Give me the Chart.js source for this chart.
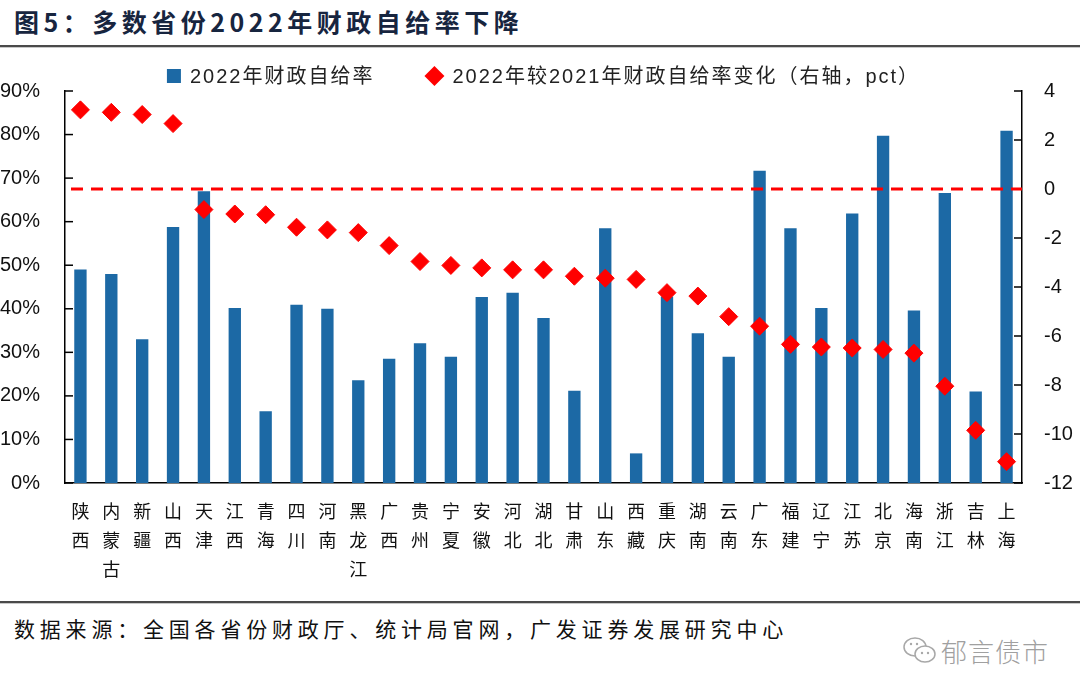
<!DOCTYPE html>
<html>
<head>
<meta charset="utf-8">
<script src="https://cdn.jsdelivr.net/npm/chart.js@4/dist/chart.umd.min.js"></script>
<style>
body { margin: 0; background: #fff; width: 1080px; height: 698px; position: relative; overflow: hidden; font-family: "Noto Sans CJK SC", sans-serif; }
.title { position: absolute; left: 14px; top: 3px; font-size: 25px; font-weight: bold; color: #17253f; letter-spacing: 4.5px; white-space: nowrap; }
.rule { position: absolute; left: 0; width: 1080px; height: 2px; background: #4a4a4a; border-bottom: 1px solid #c8c8c8; }
.chart { position: absolute; left: 0; top: 52px; width: 1080px; height: 548px; }
.source { position: absolute; left: 14px; top: 613px; font-size: 21px; color: #111; letter-spacing: 4.8px; white-space: nowrap; }
.mark { position: absolute; left: 902px; top: 632px; font-size: 26px; font-weight: 300; color: #a0a0a0; display: flex; align-items: center; gap: 3px; letter-spacing: 1px; }
</style>
</head>
<body>
<div class="title">图5：多数省份2022年财政自给率下降</div>
<div class="rule" style="top:45px"></div>
<div class="chart"><canvas id="Chart1"></canvas></div>
<div class="rule" style="top:601px"></div>
<div class="source">数据来源：全国各省份财政厅、统计局官网，广发证券发展研究中心</div>
<div class="mark">
  <svg width="36" height="32" viewBox="0 0 36 32"><ellipse cx="13" cy="12" rx="11" ry="9" fill="none" stroke="#a8a8a8" stroke-width="1.5"/><circle cx="9" cy="9" r="1.2" fill="#a8a8a8"/><circle cx="15" cy="9" r="1.2" fill="#a8a8a8"/><ellipse cx="23" cy="19" rx="10" ry="8" fill="#fff" stroke="#a8a8a8" stroke-width="1.5"/><circle cx="20" cy="18" r="1.2" fill="#a8a8a8"/><circle cx="26" cy="18" r="1.2" fill="#a8a8a8"/></svg>
  <span>郁言债市</span>
</div>
<script>
const provinces = ['陕西', '内蒙古', '新疆', '山西', '天津', '江西', '青海', '四川', '河南', '黑龙江',
    '广西', '贵州', '宁夏', '安徽', '河北', '湖北', '甘肃', '山东', '西藏', '重庆',
    '湖南', '云南', '广东', '福建', '辽宁', '江苏', '北京', '海南', '浙江', '吉林', '上海'];
const ratio2022 = [49.0, 48.0, 33.0, 58.8, 67.0, 40.2, 16.5, 40.9, 40.0, 23.6,
    28.5, 32.1, 29.0, 42.7, 43.7, 37.9, 21.2, 58.5, 6.8, 42.8,
    34.4, 29.0, 71.7, 58.5, 40.2, 61.9, 79.7, 39.6, 66.6, 21.0, 80.9];
const changeVs2021 = [3.23, 3.13, 3.04, 2.67, -0.84, -1.02, -1.05, -1.56, -1.67, -1.78,
    -2.31, -2.96, -3.12, -3.22, -3.30, -3.30, -3.56, -3.64, -3.69, -4.23,
    -4.37, -5.21, -5.60, -6.34, -6.45, -6.49, -6.55, -6.70, -8.05, -9.85, -11.13];
const leftTicks = [0, 90, 10];   // min, max, step (%)
const rightTicks = [-12, 4, 2];  // min, max, step (pct)
const zeroLine = 0;

const labels = provinces.map(p => p.split(''));

// legend drawn by hand: the original has a wide gap between the two items
const topLegend = {
    id: 'topLegend',
    afterDraw(chart) {
        const { ctx, chartArea } = chart;
        const ds = chart.data.datasets;
        ctx.save();
        ctx.font = '20px "Liberation Sans", "Noto Sans CJK SC", sans-serif';
        ctx.letterSpacing = '2px';
        ctx.textBaseline = 'middle';
        const w1 = ctx.measureText(ds[0].label).width;
        const w2 = ctx.measureText(ds[1].label).width;
        const total = 14 + 9 + w1 + 50 + 20 + 8 + w2;
        let x = (chartArea.left + chartArea.right) / 2 - total / 2;
        const y = 24;
        ctx.fillStyle = ds[0].backgroundColor;
        ctx.fillRect(x, y - 7, 14, 14);
        x += 14 + 9;
        ctx.fillStyle = '#222';
        ctx.fillText(ds[0].label, x, y + 1);
        x += w1 + 50;
        ctx.fillStyle = ds[1].backgroundColor;
        ctx.beginPath();
        ctx.moveTo(x + 10, y - 10);
        ctx.lineTo(x + 20, y);
        ctx.lineTo(x + 10, y + 10);
        ctx.lineTo(x, y);
        ctx.closePath();
        ctx.fill();
        x += 20 + 8;
        ctx.fillStyle = '#222';
        ctx.fillText(ds[1].label, x, y + 1);
        ctx.restore();
    }
};

// inner tick marks + red dashed zero line
const axisExtras = {
    id: 'axisExtras',
    afterDatasetsDraw(chart) {
        const { ctx, chartArea, scales } = chart;
        ctx.save();
        ctx.strokeStyle = '#000';
        ctx.lineWidth = 1.5;
        ['y', 'y1'].forEach(id => {
            const s = scales[id];
            const x0 = id === 'y' ? chartArea.left : chartArea.right;
            const dir = id === 'y' ? 1 : -1;
            s.ticks.forEach((t, i) => {
                const py = s.getPixelForTick(i);
                ctx.beginPath();
                ctx.moveTo(x0, py);
                ctx.lineTo(x0 + dir * 8, py);
                ctx.stroke();
            });
        });
        const zy = scales.y1.getPixelForValue(zeroLine);
        ctx.strokeStyle = '#ff0000';
        ctx.lineWidth = 3;
        ctx.setLineDash([12, 8]);
        ctx.beginPath();
        ctx.moveTo(chartArea.left + 6, zy);
        ctx.lineTo(chartArea.right, zy);
        ctx.stroke();
        ctx.restore();
    }
};

const ctx1 = document.getElementById('Chart1').getContext('2d');

new Chart(ctx1, {
    data: {
        labels: labels,
        datasets: [{
            type: 'bar',
            label: '2022年财政自给率',
            data: ratio2022,
            backgroundColor: '#1c69a5',
            borderWidth: 0,
            barPercentage: 0.4,
            categoryPercentage: 1,
            yAxisID: 'y',
            order: 1
        }, {
            type: 'line',
            label: '2022年较2021年财政自给率变化（右轴，pct）',
            data: changeVs2021,
            showLine: false,
            pointStyle: 'rectRot',
            pointRadius: 9,
            pointHoverRadius: 9,
            backgroundColor: '#ff0000',
            borderColor: '#ff0000',
            yAxisID: 'y1',
            order: 0
        }]
    },
    options: {
        responsive: true,
        maintainAspectRatio: false,
        animation: false,
        layout: { padding: { top: 39, left: 0, right: 0, bottom: 0 } },
        plugins: {
            tooltip: { enabled: false },
            legend: { display: false }
        },
        scales: {
            x: {
                grid: { display: false },
                border: { display: true, color: '#000', width: 1.5 },
                ticks: {
                    color: '#111',
                    maxRotation: 0,
                    autoSkip: false,
                    padding: 6,
                    font: { family: '"Noto Sans CJK SC", sans-serif', size: 18, lineHeight: 1.6 }
                },
                afterFit: s => { s.height = 117; }
            },
            y: {
                position: 'left',
                min: leftTicks[0],
                max: leftTicks[1],
                grid: { display: false },
                border: { display: true, color: '#000', width: 1.5 },
                ticks: {
                    stepSize: leftTicks[2],
                    padding: 17,
                    color: '#111',
                    font: { family: '"Liberation Sans", Arial, sans-serif', size: 20 },
                    callback: v => v + '%'
                },
                afterFit: s => { s.width = 65; }
            },
            y1: {
                position: 'right',
                min: rightTicks[0],
                max: rightTicks[1],
                grid: { display: false },
                border: { display: true, color: '#000', width: 1.5 },
                ticks: {
                    stepSize: rightTicks[2],
                    padding: 14,
                    color: '#111',
                    font: { family: '"Liberation Sans", Arial, sans-serif', size: 20 }
                },
                afterFit: s => { s.width = 58; }
            }
        }
    },
    plugins: [topLegend, axisExtras]
});
</script>
</body>
</html>
